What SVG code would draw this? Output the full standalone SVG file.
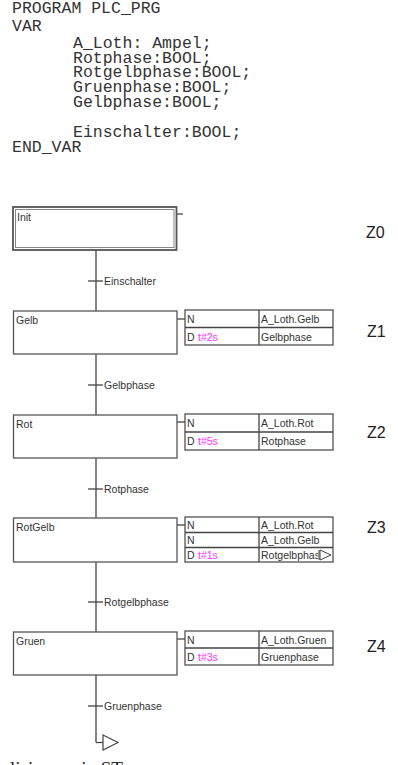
<svg xmlns="http://www.w3.org/2000/svg" width="398" height="765" viewBox="0 0 398 765">
<style>
.code{font-family:"Liberation Mono","Courier New",monospace;font-size:16.5px;fill:#333}
.t{font-family:"Liberation Sans",Arial,sans-serif;font-size:10.5px;fill:#333}
.tm{font-family:"Liberation Sans",Arial,sans-serif;font-size:10.5px;fill:#ff33ff}
.z{font-family:"Liberation Sans",Arial,sans-serif;font-size:16px;fill:#222}
.box{fill:#fff;stroke:#555;stroke-width:1.3}
.tab{fill:#fff;stroke:#444;stroke-width:1.2}
.ln{stroke:#444;stroke-width:1.3;fill:none}
.cap{font-family:"Liberation Serif","Times New Roman",serif;font-size:19px;fill:#222}
</style>
<rect width="398" height="765" fill="#fff"/>
<g id="code">
<text class="code" x="12" y="13">PROGRAM PLC_PRG</text>
<text class="code" x="12" y="31">VAR</text>
<text class="code" x="73" y="47.5">A_Loth: Ampel;</text>
<text class="code" x="73" y="62.5">Rotphase:BOOL;</text>
<text class="code" x="73" y="77">Rotgelbphase:BOOL;</text>
<text class="code" x="73" y="92">Gruenphase:BOOL;</text>
<text class="code" x="73" y="107">Gelbphase:BOOL;</text>
<text class="code" x="73" y="137">Einschalter:BOOL;</text>
<text class="code" x="12" y="152">END_VAR</text>
</g>
<g id="connectors">
<line class="ln" x1="96" y1="250" x2="96" y2="311"/>
<line class="ln" x1="88" y1="281" x2="103" y2="281"/>
<line class="ln" x1="96" y1="354" x2="96" y2="415"/>
<line class="ln" x1="88" y1="385" x2="103" y2="385"/>
<line class="ln" x1="96" y1="458" x2="96" y2="518"/>
<line class="ln" x1="88" y1="489" x2="103" y2="489"/>
<line class="ln" x1="96" y1="562" x2="96" y2="632"/>
<line class="ln" x1="88" y1="602" x2="103" y2="602"/>
<line class="ln" x1="96" y1="675" x2="96" y2="742.5"/>
<line class="ln" x1="88" y1="706" x2="103" y2="706"/>
<polyline class="ln" points="96,742.5 103,742.5"/>
<polygon points="103,735 118,742.5 103,750" fill="#fff" stroke="#444" stroke-width="1.2"/>
<line class="ln" x1="177" y1="214" x2="183" y2="214"/>
<line class="ln" x1="177" y1="319" x2="185" y2="319"/>
<line class="ln" x1="177" y1="422" x2="185" y2="422"/>
<line class="ln" x1="177" y1="525" x2="185" y2="525"/>
<line class="ln" x1="177" y1="639" x2="185" y2="639"/>
<text class="t" x="104" y="285">Einschalter</text>
<text class="t" x="104" y="389">Gelbphase</text>
<text class="t" x="104" y="493">Rotphase</text>
<text class="t" x="104" y="606">Rotgelbphase</text>
<text class="t" x="104" y="710">Gruenphase</text>
</g>
<g id="init">
<rect x="13" y="207" width="163.5" height="43" fill="#fff" stroke="#555" stroke-width="1.8"/>
<rect x="15.5" y="209.5" width="158.5" height="38" fill="none" stroke="#888" stroke-width="1"/>
<text class="t" x="17" y="221">Init</text>
<text class="z" x="366" y="238">Z0</text>
</g>
<g id="gelb">
<rect class="box" x="13.5" y="311" width="163.5" height="43"/>
<text class="t" x="16" y="324">Gelb</text>
<rect class="tab" x="185" y="310" width="148" height="35"/>
<line class="ln" x1="185" y1="327.5" x2="333" y2="327.5"/>
<line class="ln" x1="259" y1="310" x2="259" y2="345"/>
<text class="t" x="187" y="323">N</text>
<text class="t" x="261" y="323">A_Loth.Gelb</text>
<text class="t" x="187" y="340.5">D</text>
<text class="tm" x="198" y="340.5">t#2s</text>
<text class="t" x="261" y="340.5">Gelbphase</text>
<text class="z" x="367" y="337">Z1</text>
</g>
<g id="rot">
<rect class="box" x="13.5" y="415" width="163.5" height="43"/>
<text class="t" x="16" y="428">Rot</text>
<rect class="tab" x="185" y="414" width="148" height="36"/>
<line class="ln" x1="185" y1="432" x2="333" y2="432"/>
<line class="ln" x1="259" y1="414" x2="259" y2="450"/>
<text class="t" x="187" y="427">N</text>
<text class="t" x="261" y="427">A_Loth.Rot</text>
<text class="t" x="187" y="445">D</text>
<text class="tm" x="198" y="445">t#5s</text>
<text class="t" x="261" y="445">Rotphase</text>
<text class="z" x="367" y="438">Z2</text>
</g>
<g id="rotgelb">
<rect class="box" x="13.5" y="518" width="163.5" height="44"/>
<text class="t" x="16" y="531">RotGelb</text>
<rect class="tab" x="185" y="517" width="148" height="45"/>
<line class="ln" x1="185" y1="532.5" x2="333" y2="532.5"/>
<line class="ln" x1="185" y1="547.5" x2="333" y2="547.5"/>
<line class="ln" x1="259" y1="517" x2="259" y2="562"/>
<text class="t" x="187" y="529">N</text>
<text class="t" x="261" y="529">A_Loth.Rot</text>
<text class="t" x="187" y="544">N</text>
<text class="t" x="261" y="544">A_Loth.Gelb</text>
<text class="t" x="187" y="559">D</text>
<text class="tm" x="198" y="559">t#1s</text>
<svg x="259" y="547" width="59" height="15"><text class="t" x="2" y="12">Rotgelbphase</text></svg>
<line x1="319" y1="550" x2="319" y2="560" stroke="#444" stroke-width="1"/>
<polygon points="320,550 331,555 320,560" fill="#fff" stroke="#444" stroke-width="1"/>
<text class="z" x="367" y="533">Z3</text>
</g>
<g id="gruen">
<rect class="box" x="13.5" y="632" width="163.5" height="43"/>
<text class="t" x="16" y="645">Gruen</text>
<rect class="tab" x="185" y="631" width="148" height="34"/>
<line class="ln" x1="185" y1="648" x2="333" y2="648"/>
<line class="ln" x1="259" y1="631" x2="259" y2="665"/>
<text class="t" x="187" y="644">N</text>
<text class="t" x="261" y="644">A_Loth.Gruen</text>
<text class="t" x="187" y="661">D</text>
<text class="tm" x="198" y="661">t#3s</text>
<text class="t" x="261" y="661">Gruenphase</text>
<text class="z" x="367" y="652">Z4</text>
</g>
<text class="cap" x="10" y="775">lisierung in ST</text>
</svg>
